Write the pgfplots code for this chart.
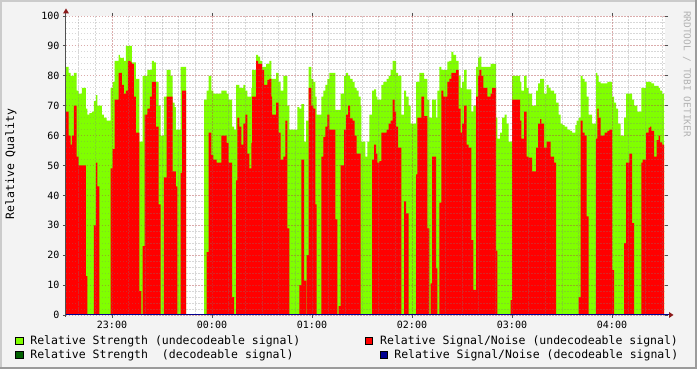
\documentclass[border=0pt]{standalone}
\usepackage{pgfplots}
\pgfplotsset{compat=1.18}
\usepackage{pgfplotstable}
\usepackage{fontspec}
\setmainfont{DejaVu Sans Mono}
\definecolor{canvas}{HTML}{F3F3F3}
\definecolor{sgreen}{HTML}{80FF00}
\definecolor{sred}{HTML}{FF0000}
\definecolor{dgreen}{HTML}{006000}
\definecolor{dblue}{HTML}{000090}
\definecolor{mgrid}{HTML}{B04848}
\definecolor{ngrid}{HTML}{808080}
\definecolor{arrowred}{HTML}{8B1A1A}
\definecolor{lborder}{HTML}{CBCBCB}
\definecolor{dborder}{HTML}{9B9B9B}
\definecolor{axisgray}{HTML}{505050}

\pgfplotstableread{
x g r
66 83 68
68.7 81 60
70.7 80 57
72 80 60
74 81 70
76.7 75 53
78.7 74 50
82 76 50
86 69 13
87.3 67 0
89.3 67.5 0
92 68 0
94 71.5 30
96 73.5 51
97.3 70 43
99.3 70 0
102 67 0
104 66 0
106.7 65 0
110.7 76 49
112.7 78 55.5
114.7 85 72
118.7 87 81
120 86 81
122 86 77
124 85 74
126 90 75
128 90 85
130.7 90 84.5
132 84.5 84
134 84.5 73
136 79 61
139.3 58 8
141.3 58 0
142.7 80 23
144.7 80 67
147.3 82 69
150 82 73
152 85 78
154 84.5 78
156 78 63
158.7 70 37
160.7 60 0
164 73 46
166.7 82 73
170.7 80 73
172.7 71 48
174.7 69.5 48
176 62 43
177.3 62 0
180.7 83 47.5
182 83 75
186 0 0
204 72 0
206.7 75 21
208.7 80 61
211.3 75 53.5
213.3 74 52
216.7 74 51
221.3 75 60
226.7 74 57.6
228.7 72 51
232 63 6
234 62 0
236 77 45
237.3 77 66
239.3 76 63
241.3 76 57
243.3 77 64
245.3 75 67
247.3 73 54
249.3 73 49
251.3 76 57.6
252 82 73
256 87 85
258 86.4 84
260 85 84
262 83 82
264 83 77
266 84 77
267.3 84 78.6
269.3 85 79
271.3 79 73
272 79 67
276 81 71
278.7 78 61
280.7 75 52
283.3 80 53
285.3 80 65
287.3 70 29
289.3 62 0
297.3 69.5 0
299.3 69 10
301.3 70.5 52
304 58 11.5
306 65 0
306.7 65 20
308.7 83 76
311.3 79 70
313.3 78 69
315.3 73 37
316.7 67 0
321.3 73 53
323.3 75 59.6
325.3 77 63
327.3 79 67
329.3 81 62
335.3 68.6 32
337.3 68.6 0
338.7 68.6 3
340.7 74 50
344 80 62
346 81 67
348 80 70
350 79 65.8
352.7 78 65
354.7 76 60
356.7 75 54
358.7 73 54
360.7 70 0
361.3 58 0
365.3 53 0
367.3 58 0
369.3 67 0
372 75 52
374 75.5 57
376 73 54
377.3 72 51
379.3 72 51.5
381.3 77 61
383.3 78 61
386.7 79 62
388.7 80 64
390.7 82 65
392.7 85 72
394.7 85 68
396 81 63
398 80 56
401.3 67 0
404 75 38
406 73 34
408.7 70 0
410.7 64 0
416 78 47
417.3 78 66
419.3 81 66
421.3 81 73
424 79 66.5
427.3 72 29
429.3 66 0
430.7 66 10.6
432 72 53
436 66 15.6
437.3 75 0
439.3 83 37.6
441.3 82 75
443.3 82 73
447.3 84.7 78
449.3 85 79
451.3 88 81
453.3 87 81
456 85 82
458.7 80 69
460.7 76 61
462 78 64
464 82 70
466.7 75.5 57
468.7 75.5 56
471.3 68 25
473.3 70 8.4
476 83 73
478 86 80
479.3 86.4 82
481.3 83 80
483.3 83 76
487.3 83 73
490.7 84 74
492 84 76
496 66 21.5
497.3 59 0
500 61 0
502 66 0
504.7 67 0
506.7 64 0
508.7 58 0
510.7 58 5
512 80 72
520 78 65
521.3 75 59
524 80 68
526.7 76 53
528.7 74 52.6
532 70 48
536 75 56
538 77.5 64
540 79 65.5
541.3 79 64
544 74 56
546.7 77 58
548.7 76 58
550.7 75 53
554 74 51
556 71 0
558.7 67 0
560.7 64 0
562.7 63.5 0
564.7 63 0
567.3 62 0
570 61.6 0
572 61 0
575.3 63.5 0
576.7 65 0
578.7 66 6
580.7 80 65
582.7 79 61
584.7 78 60
586.7 73 33
588.7 67 0
592 64 0
596 81 59
597.3 80 69
598.7 78 66
600.7 77.5 60
604.7 77.5 61
607.3 78 61.6
609.3 78 62
612 73 15
614 71 0
616 69 0
618 64 0
620.7 60 0
624 66 24
626 74 51
629.3 74 54
632 72 30.7
634 70 0
637.3 68 0
641.3 76 51
642.7 76 52
646 78 61
648.7 78 62.7
650 78 63
651.3 77.5 61.6
654 76.6 53
656.7 76.6 58.5
658.7 76 60
660 75 57.7
662 74 57
664 74 57
}\data

\begin{document}
\begin{tikzpicture}[x=1pt,y=1pt]
\path[use as bounding box] (-66,-54) rectangle (631,315);
\fill[canvas] (-66,-54) rectangle (631,315);
\fill[lborder] (-66,313) rectangle (631,315);
\fill[lborder] (-66,-54) rectangle (-64,315);
\fill[dborder] (629,-54) rectangle (631,315);
\fill[dborder] (-66,-54) rectangle (631,-52);
\begin{axis}[
  at={(0,0)}, anchor=south west, scale only axis,
  width=599pt, height=299pt,
  xmin=66, xmax=665, ymin=0, ymax=100,
  axis background/.style={fill=white},
  axis line style={draw=none},
  axis on top,
  xtick={112,212,312,412,512,612},
  xticklabels={23:00,00:00,01:00,02:00,03:00,04:00},
  minor xtick={78.667,95.333,128.667,145.333,162,178.667,195.333,228.667,245.333,262,278.667,295.333,328.667,345.333,362,378.667,395.333,428.667,445.333,462,478.667,495.333,528.667,545.333,562,578.667,595.333,628.667,645.333,662},
  ytick={0,10,...,100},
  minor y tick num=4,
  grid=both,
  major grid style={mgrid, opacity=0.45, line width=0.9pt, dash pattern=on 1.5pt off 1.5pt},
  minor grid style={ngrid, opacity=0.3, line width=0.9pt, dash pattern=on 1.5pt off 1.5pt},
  tick align=outside, major tick length=3pt, minor tick length=0pt,
  tick style={axisgray, line width=0.8pt},
  ticklabel style={font=\fontsize{10}{12}\selectfont},
  /pgf/number format/assume math mode=true,
  ylabel={Relative Quality},
  every axis y label/.style={at={(axis description cs:-0.0918,0.505)}, rotate=90, anchor=center, font=\fontsize{11.5}{13}\selectfont},
]
\addplot[const plot, fill=sgreen, draw=none] table[x=x, y=g] {\data} \closedcycle;
\addplot[const plot, fill=sred, draw=none] table[x=x, y=r] {\data} \closedcycle;
\end{axis}
% axis lines and arrows
\draw[axisgray, line width=1pt] (0,-2) -- (0,302);
\fill[arrowred] (-3,301.5) -- (0,306.5) -- (3,301.5) -- cycle;
\draw[dblue, line width=1pt] (0,0) -- (603,0);
\fill[arrowred] (603,-3) -- (607.5,0) -- (603,3) -- cycle;
% legend
\begin{scope}[every node/.style={anchor=base west, inner sep=0pt, font=\fontsize{11.5}{13}\selectfont}]
\filldraw[fill=sgreen, draw=black, line width=0.8pt] (-50.4,-29.5) rectangle (-42.9,-22);
\node at (-35.8,-30) {Relative Strength (undecodeable signal)};
\filldraw[fill=sred, draw=black, line width=0.8pt] (299.3,-29.5) rectangle (306.8,-22);
\node at (314,-30) {Relative Signal/Noise (undecodeable signal)};
\filldraw[fill=dgreen, draw=black, line width=0.8pt] (-50.4,-43.5) rectangle (-42.9,-36);
\node at (-35.8,-44) {Relative Strength\ \ (decodeable signal)};
\filldraw[fill=dblue, draw=black, line width=0.8pt] (314,-43.5) rectangle (321.5,-36);
\node at (328.2,-44) {Relative Signal/Noise (decodeable signal)};
\end{scope}
% watermark
\node[rotate=-90, inner sep=0pt, font=\fontsize{9.5}{11}\selectfont, color=black!30] at (621,241) {RRDTOOL / TOBI OETIKER};
\end{tikzpicture}
\end{document}
